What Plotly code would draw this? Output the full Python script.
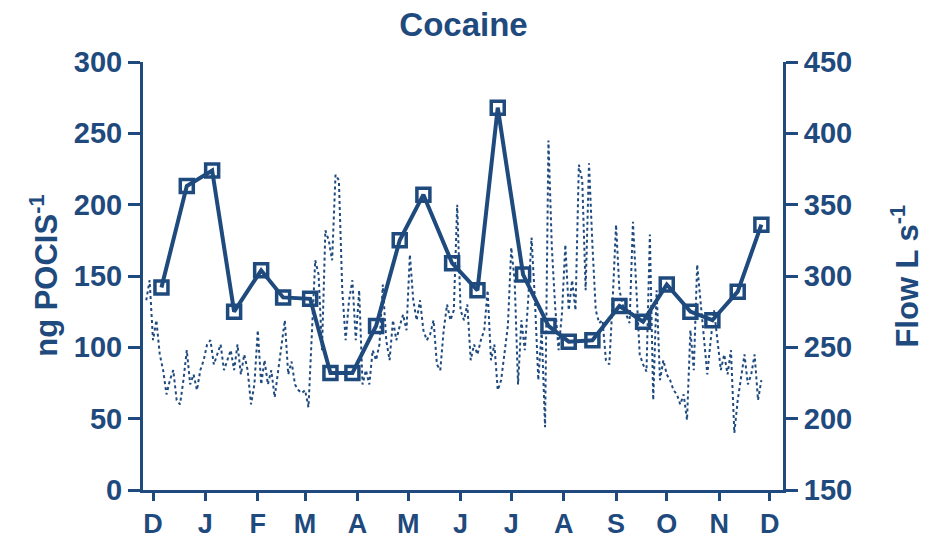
import pandas as pd
import plotly.graph_objects as go

# Passive sampler results, ng per POCIS, biweekly deployments
sample_dates = ["2013-12-06", "2013-12-21", "2014-01-05", "2014-01-18", "2014-02-03",
                "2014-02-16", "2014-03-04", "2014-03-16", "2014-03-29", "2014-04-12",
                "2014-04-26", "2014-05-10", "2014-05-27", "2014-06-11", "2014-06-23",
                "2014-07-08", "2014-07-23", "2014-08-04", "2014-08-18", "2014-09-03",
                "2014-09-17", "2014-10-01", "2014-10-15", "2014-10-28", "2014-11-12",
                "2014-11-26"]
ng_pocis = [142, 213, 224, 125, 154, 135, 134, 82, 82, 115, 175, 207, 159, 140, 268,
            151, 115, 104, 105, 129, 118, 144, 125, 119, 139, 186]

# River flow, L/s, read every second day from 2013-11-27
flow = [283, 297, 255, 269, 245, 234, 217, 227, 234, 213, 210, 227, 248, 224, 231, 220,
        234, 241, 252, 255, 238, 245, 252, 234, 241, 248, 234, 252, 231, 245, 234, 210,
        224, 262, 224, 241, 224, 234, 215, 234, 252, 269, 231, 240, 224, 220, 218, 220,
        208, 262, 311, 301, 248, 332, 325, 311, 371, 367, 290, 255, 283, 297, 255, 290,
        224, 234, 224, 248, 241, 252, 294, 255, 241, 269, 255, 265, 273, 262, 315, 283,
        269, 283, 262, 255, 259, 269, 238, 234, 262, 280, 269, 276, 350, 276, 269, 280,
        241, 252, 245, 255, 262, 290, 241, 252, 220, 227, 248, 265, 320, 297, 224, 269,
        248, 283, 327, 283, 227, 262, 194, 395, 320, 278, 248, 274, 322, 276, 297, 276,
        378, 367, 290, 379, 322, 276, 267, 269, 241, 238, 283, 336, 290, 280, 273, 267,
        338, 290, 245, 238, 233, 329, 213, 290, 227, 241, 231, 227, 220, 217, 210, 217,
        199, 262, 234, 308, 283, 259, 231, 255, 276, 255, 234, 245, 231, 248, 190, 213,
        229, 245, 224, 231, 245, 213, 227]
flow_dates = pd.date_range("2013-11-27", periods=len(flow), freq="2D")

month_starts = pd.date_range("2013-12-01", "2014-12-01", freq="MS")
month_labels = ["D", "J", "F", "M", "A", "M", "J", "J", "A", "S", "O", "N", "D"]

navy = "#1F4A7E"
font_family = "Liberation Sans, Arial, sans-serif"

fig = go.Figure()

fig.add_trace(go.Scatter(
    x=flow_dates, y=flow, yaxis="y2", mode="lines",
    line=dict(color=navy, width=2, dash="dot"),
    name="Flow"
))

fig.add_trace(go.Scatter(
    x=sample_dates, y=ng_pocis, mode="lines+markers",
    line=dict(color=navy, width=4),
    marker=dict(symbol="square-open", size=13, color=navy, line=dict(width=3.5, color=navy)),
    name="Cocaine"
))

axis_common = dict(
    showgrid=False, zeroline=False, showline=True, linecolor=navy, linewidth=3,
    ticks="outside", tickcolor=navy, tickwidth=3, automargin=False,
    tickfont=dict(family=font_family, size=29, color=navy, weight="bold"),
)

fig.update_layout(
    width=927, height=541,
    margin=dict(l=143, r=144, t=62, b=51),
    paper_bgcolor="white", plot_bgcolor="white",
    showlegend=False,
    title=dict(text="Cocaine", x=0.5, xanchor="center", y=0.954, yanchor="middle",
               font=dict(family=font_family, size=33, color=navy, weight="bold")),
    xaxis=dict(
        **axis_common,
        range=["2013-11-25 02:00", "2014-12-08 19:00"],
        tickvals=month_starts, ticktext=month_labels, ticklen=8,
    ),
    yaxis=dict(
        **axis_common,
        range=[0, 300], tickvals=[0, 50, 100, 150, 200, 250, 300], ticklen=12,
    ),
    yaxis2=dict(
        **axis_common,
        overlaying="y", side="right",
        range=[150, 450], tickvals=[150, 200, 250, 300, 350, 400, 450], ticklen=12,
    ),
    annotations=[
        dict(text="ng POCIS<sup>-1</sup>", xref="paper", yref="paper",
             x=-0.155, y=0.5, xanchor="center", yanchor="middle", textangle=-90,
             showarrow=False,
             font=dict(family=font_family, size=31, color=navy, weight="bold")),
        dict(text="Flow L s<sup>-1</sup>", xref="paper", yref="paper",
             x=1.19, y=0.5, xanchor="center", yanchor="middle", textangle=-90,
             showarrow=False,
             font=dict(family=font_family, size=31, color=navy, weight="bold")),
    ],
)
fig.update_xaxes(tickfont_size=27)

fig.write_html("out.html", config={"displayModeBar": False},
               post_script="document.body.style.margin = '0';")
